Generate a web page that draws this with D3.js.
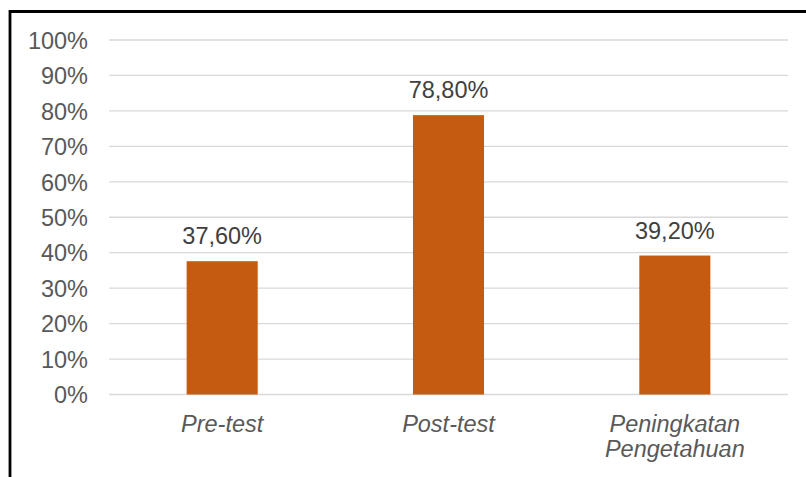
<!DOCTYPE html>
<html><head><meta charset="utf-8">
<script src="https://cdn.jsdelivr.net/npm/d3@7/dist/d3.min.js"></script>
<style>body{margin:0;background:#fff;}svg{display:block;}</style>
</head><body>
<svg id="c" width="806" height="477"></svg>
<script>
const categories = [["Pre-test"], ["Post-test"], ["Peningkatan", "Pengetahuan"]];
const values = [37.6, 78.8, 39.2];
const valueLabels = ["37,60%", "78,80%", "39,20%"];
const yTicks = [0, 10, 20, 30, 40, 50, 60, 70, 80, 90, 100];

const svg = d3.select("#c");
const font = "'Liberation Sans', Arial, sans-serif";
const fs = 23.5;

// frame
svg.append("path").attr("d", "M10,480 V11.5 H810").attr("fill", "none").attr("stroke", "#000").attr("stroke-width", 2.8);

const x = d3.scaleBand().domain(categories.map((d, i) => i)).range([109, 788]).paddingInner(0.686).paddingOuter(0.343);
const y = d3.scaleLinear().domain([0, 100]).range([394.5, 40]);

// gridlines
svg.append("g").selectAll("line").data(yTicks).join("line")
  .attr("x1", 109).attr("x2", 788)
  .attr("y1", d => y(d)).attr("y2", d => y(d))
  .attr("stroke", "#d9d9d9").attr("stroke-width", 1.3);

// y axis labels
const yAxis = d3.axisLeft(y).tickValues(yTicks).tickFormat(d => d + "%").tickSize(0).tickPadding(0);
const ga = svg.append("g").attr("transform", "translate(88,0)").call(yAxis);
ga.select(".domain").remove();
ga.selectAll("text").attr("font-family", font).attr("font-size", fs).attr("fill", "#595959").attr("dy", "0.35em");

// bars
svg.append("g").selectAll("rect").data(values).join("rect")
  .attr("x", (d, i) => x(i)).attr("width", x.bandwidth())
  .attr("y", d => y(d)).attr("height", d => y(0) - y(d))
  .attr("fill", "#C55A11");

// value labels
svg.append("g").selectAll("text").data(values).join("text")
  .attr("x", (d, i) => x(i) + x.bandwidth() / 2)
  .attr("y", d => y(d) - 17)
  .attr("text-anchor", "middle")
  .attr("font-family", font).attr("font-size", fs).attr("fill", "#404040")
  .text((d, i) => valueLabels[i]);

// category labels
const cg = svg.append("g").selectAll("text").data(categories).join("text")
  .attr("text-anchor", "middle")
  .attr("font-family", font).attr("font-size", fs).attr("font-style", "italic").attr("fill", "#595959");
cg.each(function(d, i) {
  const t = d3.select(this);
  d.forEach((line, j) => {
    t.append("tspan").attr("x", x(i) + x.bandwidth() / 2).attr("y", 431.5 + j * 25).text(line);
  });
});
</script>
</body></html>
